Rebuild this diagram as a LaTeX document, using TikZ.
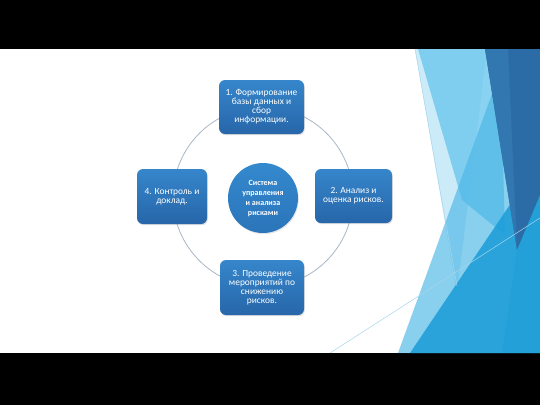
\documentclass[tikz,border=0pt]{standalone}
\usepackage{fontspec}
\setmainfont{Carlito}
\usetikzlibrary{shadows}
\definecolor{boxtop}{HTML}{3686CB}
\definecolor{boxbot}{HTML}{2766A9}
\definecolor{ringc}{HTML}{A9B7C6}
\definecolor{hubtop}{HTML}{3489CD}
\definecolor{hubbot}{HTML}{2B74BA}
\definecolor{paleblue}{HTML}{8FD3F0}
\definecolor{lightblue}{HTML}{6CC7EE}
\definecolor{midblue}{HTML}{4AB6E6}
\definecolor{brightblue}{HTML}{1A9CD8}
\definecolor{darkblue}{HTML}{2B6CA6}
\definecolor{darkblue2}{HTML}{3377B0}
\definecolor{thinline}{HTML}{A6D6EC}
\begin{document}
\begin{tikzpicture}[x=1pt,y=-1pt,
  stage/.style 2 args={rounded corners=6pt, top color=boxtop, bottom color=boxbot,
    minimum width=#1pt, minimum height=#2pt, inner sep=1pt, align=center,
    text=white, font=\fontsize{9.4}{9}\selectfont,
    drop shadow={shadow xshift=0.8pt, shadow yshift=-1.2pt, opacity=0.25}},
  hubstyle/.style={circle, top color=hubtop, bottom color=hubbot,
    minimum size=70pt, inner sep=0pt, align=center, text=white,
    font=\fontsize{8}{10}\selectfont\bfseries,
    drop shadow={shadow xshift=0.8pt, shadow yshift=-1.2pt, opacity=0.2}},
  ringstyle/.style={circle, draw=ringc, line width=0.8pt, minimum size=180pt, inner sep=0pt}
]
\useasboundingbox (0,0) rectangle (540,405);
% letterbox and slide
\fill[black] (0,0) rectangle (540,405);
\fill[white] (0,49) rectangle (540,353);
% facet decoration
\fill[paleblue, opacity=0.45] (415,49) -- (487,49) -- (457,292) -- cycle;
\fill[lightblue, opacity=0.8] (418,49) -- (500,49) -- (505,235) -- (462,200) -- cycle;
\fill[midblue, opacity=0.65] (398,353) -- (505,58) -- (540,58) -- (540,353) -- cycle;
\fill[brightblue, opacity=0.85] (410,353) -- (540,353) -- (540,160) -- cycle;
\fill[darkblue] (485,49) -- (540,49) -- (540,195) -- (517,250) -- cycle;
\fill[darkblue2] (485,49) -- (508,49) -- (517,250) -- cycle;
\fill[brightblue, opacity=0.35] (517,250) -- (540,195) -- (540,353) -- (502,353) -- cycle;
\draw[thinline, line width=0.5pt] (415,49) -- (457,286);
\draw[thinline, line width=0.5pt] (330,353) -- (540,218);
% diagram
\node[ringstyle] (ring) at (263,197) {};
\node[hubstyle] (hub) at (263,198) {Система\\управления\\и анализа\\рисками};
\node[stage={85}{54}] (s1) at (261.5,107) {1. Формирование\\базы данных и\\сбор\\информации.};
\node[stage={77}{54}] (s2) at (353.5,196) {2. Анализ и\\оценка рисков.};
\node[stage={84}{55}] (s3) at (262,287.5) {3. Проведение\\мероприятий по\\снижению\\рисков.};
\node[stage={70}{55}] (s4) at (172,196.5) {4. Контроль и\\доклад.};
\end{tikzpicture}
\end{document}
